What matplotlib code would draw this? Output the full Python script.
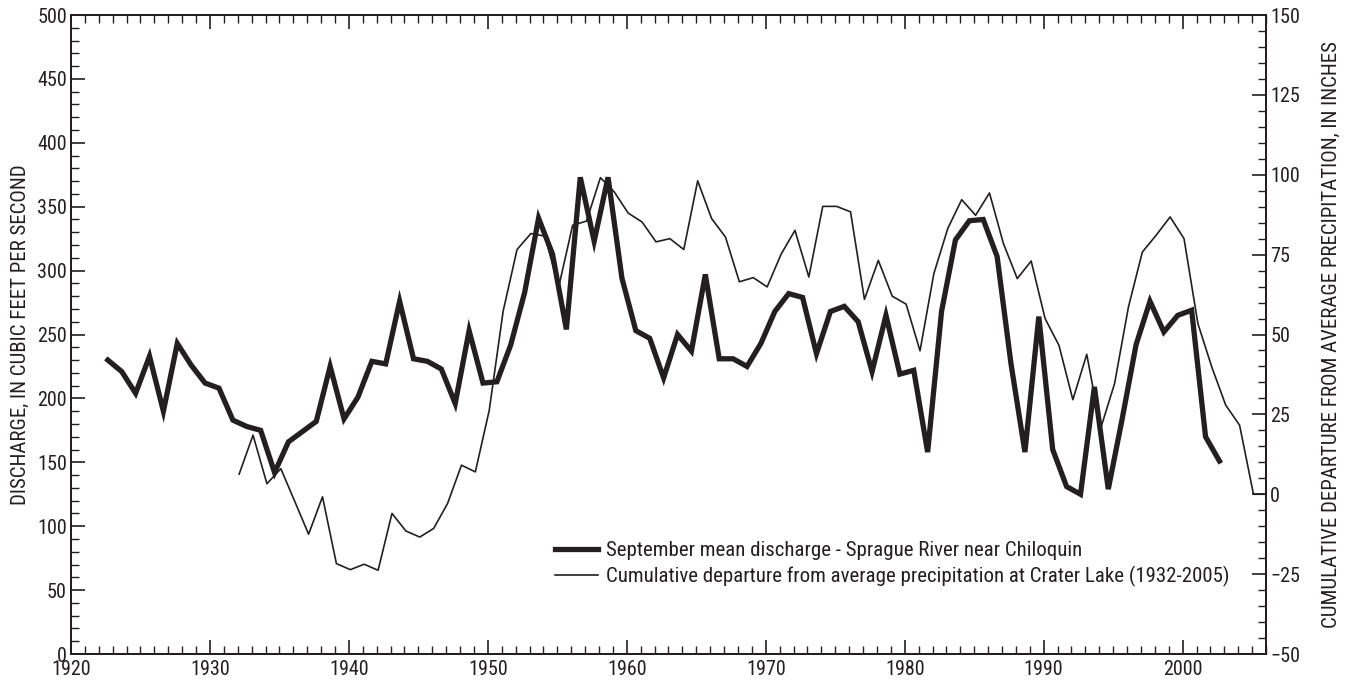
import matplotlib
matplotlib.use("Agg")
import matplotlib.pyplot as plt
from matplotlib import font_manager
from matplotlib.ticker import MultipleLocator

# narrow sans if one is around, else DejaVu (condensed face if installed)
installed = {f.name for f in font_manager.fontManager.ttflist}
family = next((n for n in ["Liberation Sans Narrow", "Roboto Condensed",
                           "Open Sans Condensed", "DejaVu Sans"] if n in installed),
              "DejaVu Sans")
plt.rcParams["font.family"] = [family, "DejaVu Sans"]
plt.rcParams["font.stretch"] = "condensed"

# September mean discharge, Sprague River near Chiloquin (cfs), 1922-2002
discharge_years = list(range(1922, 2003))
discharge = [
    230, 221, 204, 233, 190, 243, 226, 212, 208, 183,
    178, 175, 142, 166, 174, 182, 225, 184, 201, 229,
    227, 276, 231, 229, 223, 196, 253, 212, 213, 242,
    283, 341, 313, 254, 373, 323, 373, 294, 253, 247,
    216, 250, 237, 297, 231, 231, 225, 243, 268, 282,
    279, 235, 268, 272, 260, 221, 265, 219, 222, 158,
    268, 324, 339, 340, 311, 227, 158, 264, 160, 131,
    125, 209, 129, 184, 242, 276, 252, 265, 269, 170,
    151,
]

# Cumulative departure from average precipitation at Crater Lake (inches)
precip_years = list(range(1932, 2007))
precip_departure = [
    6.3, 18.5, 3.3, 8.0, -2.2, -12.5, -0.8, -21.7, -23.6, -21.9,
    -23.8, -6.0, -11.5, -13.4, -10.7, -2.9, 9.1, 7.0, 26.3, 57.3,
    76.6, 81.6, 80.8, 64.9, 84.2, 85.5, 99.1, 94.6, 88.0, 85.2,
    79.0, 80.0, 76.6, 98.1, 86.3, 80.5, 66.5, 67.8, 64.9, 75.1,
    82.6, 68.0, 90.1, 90.1, 88.4, 61.0, 73.2, 62.0, 59.5, 44.9,
    69.1, 83.2, 92.2, 87.3, 94.3, 78.5, 67.5, 73.0, 55.0, 46.6,
    29.6, 43.8, 20.6, 34.6, 58.6, 75.8, 81.1, 86.8, 80.0, 53.4,
    39.8, 27.9, 21.6, 0.0, 0.0,
]

ink = "#231f20"

fig = plt.figure(figsize=(13.58, 6.82), dpi=100)
ax = fig.add_axes([71 / 1358, 28 / 682, 1195 / 1358, 639 / 682])
ax2 = ax.twinx()

# discharge plotted at September of each year, precip near start of year
d_x = [y + 0.65 for y in discharge_years]
p_x = [y + 0.1 for y in precip_years]

thick, = ax.plot(d_x, discharge, color=ink, lw=3.8, solid_joinstyle="miter",
                 label="September mean discharge - Sprague River near Chiloquin")
thin, = ax2.plot(p_x, precip_departure, color=ink, lw=1.2,
                 label="Cumulative departure from average precipitation at Crater Lake (1932-2005)")

ax.set_xlim(1920, 2006)
ax.set_ylim(0, 500)
ax2.set_ylim(-50, 150)

ax.xaxis.set_major_locator(MultipleLocator(10))
ax.xaxis.set_minor_locator(MultipleLocator(1))
ax.yaxis.set_major_locator(MultipleLocator(50))
ax.yaxis.set_minor_locator(MultipleLocator(10))
ax2.yaxis.set_major_locator(MultipleLocator(25))
ax2.yaxis.set_minor_locator(MultipleLocator(5))

ax.tick_params(axis="x", which="both", direction="in", top=True, colors=ink,
               labelsize=14.5, pad=4)
ax.tick_params(axis="y", which="both", direction="in", colors=ink, labelsize=14.5, pad=3)
ax2.tick_params(axis="y", which="both", direction="in", colors=ink, labelsize=14.5, pad=3)
for a in (ax, ax2):
    a.tick_params(which="major", length=10, width=1.2)
    a.tick_params(which="minor", length=6, width=1.0)
    for s in a.spines.values():
        s.set_color(ink)
        s.set_linewidth(1.4)

ax.set_ylabel("DISCHARGE, IN CUBIC FEET PER SECOND", fontsize=15, color=ink, labelpad=5)
ax2.set_ylabel("CUMULATIVE DEPARTURE FROM AVERAGE PRECIPITATION, IN INCHES",
               fontsize=15, color=ink, labelpad=16)

leg = ax2.legend(handles=[thick, thin], loc="lower left",
                 bbox_to_anchor=(0.396, 0.088), frameon=False, fontsize=15,
                 handlelength=2.1, handletextpad=0.38, borderpad=0,
                 labelspacing=0.3)
for t in leg.get_texts():
    t.set_color(ink)

fig.savefig("out.png", dpi=100)
plt.close(fig)
